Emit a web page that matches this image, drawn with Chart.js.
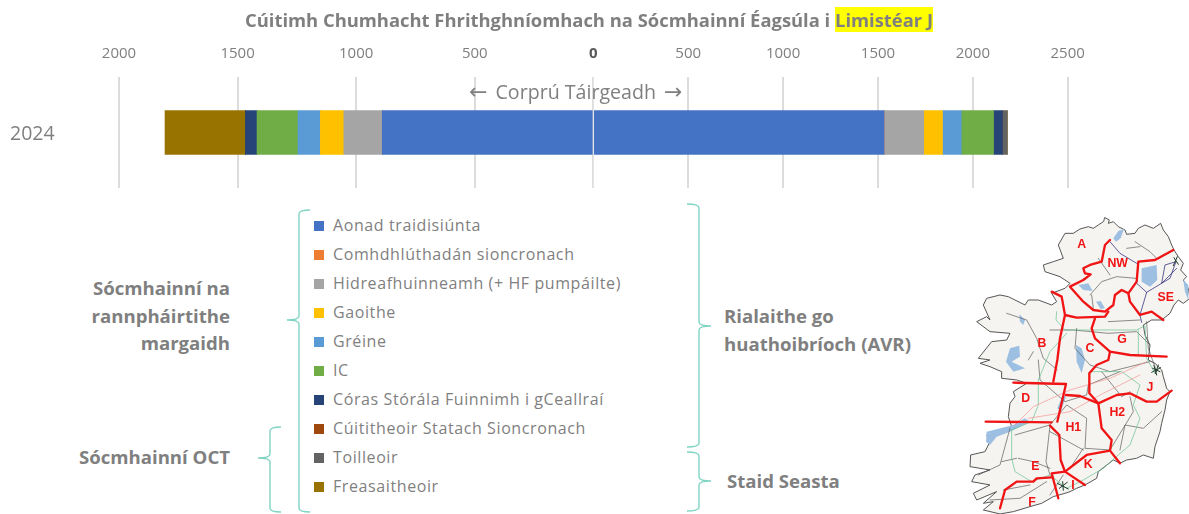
<!DOCTYPE html>
<html lang="ga">
<head>
<meta charset="UTF-8">
<title>Cúitimh Chumhacht Fhrithghníomhach</title>
<script src="https://cdn.jsdelivr.net/npm/chart.js"></script>
<style>
    body { margin: 0; background: #fff; font-family: 'Open Sans', sans-serif; color: #7f7f7f; }
    #page { position: relative; width: 1189px; height: 514px; overflow: hidden; }
    #chart { position: absolute; left: 0; top: 0; }
    .note { position: absolute; white-space: nowrap; line-height: 27.5px; }
    .head { font-weight: 700; font-size: 18.6px; color: #7f7f7f; }
    #title { left: 0; width: 1178px; top: 6px; text-align: center; line-height: 28px; font-size: 18.4px; }
    #title span { background: #ffff00; }
    #dir { left: 469px; top: 78px; font-size: 19.6px; }
    #dir b { font-family: 'DejaVu Sans', sans-serif; font-weight: 400; font-size: 22px; margin: 0 3px; }
    #legend { position: absolute; left: 314px; top: 211px; }
    .row { height: 29px; line-height: 29px; font-size: 16px; letter-spacing: 0.6px; white-space: nowrap; }
    .row i { display: inline-block; width: 10px; height: 10px; margin-right: 9px; }
    #overlay { position: absolute; left: 0; top: 0; }
</style>
</head>
<body>
<div id="page">
    <canvas id="chart" width="1189" height="200"></canvas>

    <div class="note head" id="title">Cúitimh Chumhacht Fhrithghníomhach na Sócmhainní Éagsúla i <span>Limistéar J</span></div>
    <div class="note" id="dir"><b style="margin-left:0">←</b> Corprú&nbsp;Táirgeadh <b>→</b></div>
    <div id="legend"></div>

    <div class="note head" style="right:959px;top:274px;text-align:right">Sócmhainní na<br>rannpháirtithe<br>margaidh</div>
    <div class="note head" style="right:959px;top:443px">Sócmhainní OCT</div>
    <div class="note head" style="left:724px;top:302px">Rialaithe go<br>huathoibríoch (AVR)</div>
    <div class="note head" style="left:727px;top:467px">Staid Seasta</div>

    <svg id="overlay" width="1189" height="514" fill="none">
        <!-- brackets -->
        <g stroke="#7fd4c4" stroke-width="1.4">
            <path d="M310 210 Q299 210 299 214 V316 Q299 320 287 320 Q299 320 299 324 V508 Q299 512 310 512"/>
            <path d="M281 427 Q270 427 270 431 V454 Q270 458 258 458 Q270 458 270 462 V508 Q270 512 281 512"/>
            <path d="M687 204 Q699 204 699 208 V322 Q699 326 711 326 Q699 326 699 330 V443 Q699 447 687 447"/>
            <path d="M687 452 Q699 452 699 456 V477 Q699 481 711 481 Q699 481 699 485 V507 Q699 511 687 511"/>
        </g>
        <!-- map of the island, traced in 3x crop units -->
        <g transform="translate(970 205) scale(0.3333)" stroke-linejoin="round" stroke-linecap="round">
            <path fill="#f6f4f0" stroke="#555" stroke-width="3" d="M405 38 L418 45 L415 55 L430 50 L445 65 L465 75 L470 88 L495 85 L505 70 L525 60 L550 70 L572 55 L580 75 L595 95 L605 120 L612 135 L625 155 L640 175 L632 195 L650 215 L640 225 L655 250 L660 280 L640 295 L625 285 L612 300 L600 325 L575 345 L545 345 L520 360 L525 390 L540 420 L535 465 L555 475 L575 495 L580 515 L590 550 L600 560 L590 585 L585 615 L575 655 L570 680 L555 725 L550 760 L520 750 L500 760 L470 765 L450 775 L430 765 L385 800 L380 820 L345 840 L320 850 L300 860 L285 865 L250 875 L215 895 L180 905 L130 920 L90 927 L40 915 L70 890 L40 895 L80 860 L20 885 L10 865 L60 840 L5 830 L15 810 L60 795 L0 785 L2 750 L45 740 L60 710 L50 690 L90 675 L125 665 L115 635 L120 595 L135 575 L130 560 L170 535 L140 525 L95 520 L95 500 L60 485 L30 475 L60 465 L25 460 L65 410 L110 405 L120 385 L60 380 L20 350 L50 335 L60 345 L40 300 L50 280 L90 270 L115 275 L165 300 L175 285 L205 285 L245 300 L260 290 L245 265 L285 250 L300 235 L270 215 L225 200 L220 180 L250 170 L280 160 L265 120 L285 85 L310 85 L330 72 L355 65 L370 70 L385 60 L400 50 Z"/>
            <g fill="#9dc0e2" stroke="none">
                <path d="M515 190 L560 180 L562 225 L540 245 L515 230 Z"/>
                <path d="M430 100 L445 78 L462 72 L452 100 L438 110 Z"/>
                <path d="M325 240 L355 235 L368 258 L340 255 Z"/>
                <path d="M378 290 L392 288 L405 310 L392 312 Z"/>
                <path d="M148 328 L165 345 L160 360 L150 350 Z"/>
                <path d="M120 430 L148 422 L150 455 L125 470 L165 490 L130 500 L108 470 Z"/>
                <path d="M50 680 L130 660 L165 640 L180 650 L120 680 L80 695 L60 720 L48 710 Z"/>
                <path d="M278 570 L288 575 L272 620 L262 610 Z"/>
                <path d="M318 420 L335 430 L345 465 L335 505 L320 470 Z"/>
                <path d="M640 225 L655 240 L655 285 L645 260 Z"/>
            </g>
            <g stroke="#555" stroke-width="2">
                <path d="M360 270 L395 230 L440 215 L498 220 M420 210 L385 160 M365 270 L370 310"/>
                <path d="M495 110 L540 140 L560 160 M470 130 L510 125"/>
                <path d="M110 325 L170 345 L200 400 L220 460 L262 495 M240 375 L310 375 L415 385 L500 380 L540 420"/>
                <path d="M175 465 L190 440 M320 370 L315 430 L360 480 L420 500 L540 470 M415 350 L510 345"/>
                <path d="M205 465 L210 525 L285 590 L350 570 L355 540 L450 500 M395 500 L455 575 L480 560"/>
                <path d="M135 690 L240 660 L290 600 L350 640 L345 730 L420 735 L490 620 L480 575"/>
                <path d="M240 662 L228 770 L240 810 M240 680 L340 735 M300 790 L340 730 M145 760 L190 770 L240 790"/>
                <path d="M120 670 L90 780 L25 810 M95 770 L140 760 M450 735 L465 660 L520 670 L575 620"/>
                <path d="M280 810 L240 870 M100 855 L180 840 M60 885 L150 880 L230 830"/>
                <path d="M530 350 L535 430 L560 500"/>
            </g>
            <g stroke="#5fc08c" stroke-width="2">
                <path d="M260 320 L258 345 L285 375 L500 375 L525 362 L530 460 L555 505"/>
                <path d="M505 375 L505 450 M290 385 L240 440 L205 525 L205 600 L185 650 L125 675 L125 760 L135 800 L185 830 L240 810 L290 850"/>
                <path d="M360 500 L455 500 L510 540 L490 600 L510 640 L480 720 L445 750 L400 790 L340 825 L290 850"/>
            </g>
            <g stroke="#26267c" stroke-width="2.2">
                <path d="M420 110 L450 145 L500 175 L510 170 M505 175 L500 235 L530 262 L600 220 L618 170 L585 180 L575 235 L620 190"/>
                <path d="M530 262 L510 330 L515 352"/>
            </g>
            <g stroke="#f2938f" stroke-width="2">
                <path d="M135 660 L190 605 L300 555 L420 520 L530 470"/>
                <path d="M175 640 L300 620 L400 565 L510 510"/>
            </g>
            <g stroke="#1d3b2c" stroke-width="3">
                <path d="M548 490 L570 500 M552 482 L560 510 M545 502 L572 488 M565 480 L556 506"/>
                <path d="M262 835 L295 852 M268 850 L292 832 M278 830 L280 856"/>
                <path d="M612 158 L625 178 M622 155 L610 182"/>
            </g>
            <g stroke="#f01414" stroke-width="7">
                <path d="M420 105 L405 120 L395 170 L360 180 L340 190 L345 205 L362 208 L340 225 L300 245 L340 290 L370 315 L405 320 L430 300 L435 270 L455 255 L475 265 L500 230 L505 170 L555 165 L610 135"/>
                <path d="M475 265 L480 290 L510 330 L545 320 L580 345"/>
                <path d="M245 260 L275 275 L285 330 L320 338 L405 335 L415 320"/>
                <path d="M285 330 L270 400 L262 465 L250 530"/>
                <path d="M375 340 L365 370 L375 400 L420 440 L480 450 L590 455"/>
                <path d="M420 440 L415 465 L380 480 L358 505 L358 565 L385 595"/>
                <path d="M130 533 L288 537 L262 650 M47 650 L245 652"/>
                <path d="M288 570 L330 573 L385 595 L440 570 L480 565 L530 590 L560 590 L605 557"/>
                <path d="M385 595 L395 670 L425 705 L420 737 L450 775"/>
                <path d="M420 737 L350 750 L285 800 L345 840"/>
                <path d="M240 662 L268 690 L272 765 L285 800 L245 805 L265 880"/>
                <path d="M245 817 L200 820 L190 830 L140 830 L105 855 L90 910"/>
            </g>
            <g fill="#f01414" font-family="'Liberation Sans', sans-serif" font-weight="700" font-size="37" text-anchor="middle" dominant-baseline="central">
                <text x="335" y="118">A</text><text x="443" y="175">NW</text><text x="587" y="275">SE</text>
                <text x="216" y="415">B</text><text x="360" y="428">C</text><text x="456" y="403">G</text>
                <text x="167" y="578">D</text><text x="540" y="545">J</text><text x="310" y="665">H1</text>
                <text x="442" y="622">H2</text><text x="196" y="782">E</text><text x="355" y="777">K</text>
                <text x="309" y="840">I</text><text x="186" y="890">F</text>
            </g>
        </g>
    </svg>
</div>

<script>
    const categories = ['2024'];
    const seriesNames = ['Aonad traidisiúnta', 'Comhdhlúthadán sioncronach', 'Hidreafhuinneamh (+ HF pumpáilte)', 'Gaoithe', 'Gréine', 'IC', 'Córas Stórála Fuinnimh i gCeallraí', 'Cúititheoir Statach Sioncronach', 'Toilleoir', 'Freasaitheoir'];
    const seriesColors = ['#4472c4', '#ed7d31', '#a5a5a5', '#ffc000', '#5b9bd5', '#70ad47', '#264478', '#9e480e', '#636363', '#997300'];
    // The two sides of the bar have different scales
    const corpruValues = [-890, 0, -162, -99, -94, -173, -49, 0, 0, -339];
    const tairgeadhValues = [1532, 0, 209, 99, 99, 170, 47, 0, 26, 0];
    const corpruMax = 2000;
    const tairgeadhMax = 2500;
    const tickStep = 500;

    const legend = document.getElementById('legend');
    seriesNames.forEach((name, i) => {
        const row = document.createElement('div');
        row.className = 'row';
        row.innerHTML = `<i style="background:${seriesColors[i]}"></i>${name}`;
        legend.appendChild(row);
    });

    const datasets = [];
    seriesNames.forEach((name, i) => {
        datasets.push({ label: name, data: [corpruValues[i]], backgroundColor: seriesColors[i], xAxisID: 'xCorpru', barThickness: 44 });
        datasets.push({ label: name, data: [tairgeadhValues[i]], backgroundColor: seriesColors[i], xAxisID: 'xTairgeadh', barThickness: 44 });
    });

    const zeroLine = {
        id: 'zeroLine',
        afterDatasetsDraw(chart) {
            const x = chart.scales.xCorpru.getPixelForValue(0);
            const c = chart.ctx;
            c.save();
            c.strokeStyle = 'rgba(255,255,255,0.3)';
            c.lineWidth = 1;
            c.beginPath();
            c.moveTo(x, chart.chartArea.top);
            c.lineTo(x, chart.chartArea.bottom);
            c.stroke();
            c.restore();
        }
    };

    new Chart(document.getElementById('chart'), {
        type: 'bar',
        data: { labels: categories, datasets: datasets },
        plugins: [zeroLine],
        options: {
            indexAxis: 'y',
            responsive: false,
            animation: false,
            layout: { padding: { left: 10, right: 121.3, top: 0, bottom: 12 } },
            plugins: { legend: { display: false }, title: { display: false }, tooltip: { enabled: false } },
            scales: {
                y: {
                    stacked: true,
                    grid: { display: false },
                    border: { display: false },
                    ticks: { color: '#7f7f7f', font: { family: "'Open Sans', sans-serif", size: 19.5 }, padding: 0, crossAlign: 'far', labelOffset: 2 },
                    afterFit(s) { s.width = 109; }
                },
                // two axes share the band above the plot, each with half of its width.
                // the stack is laid out from the last one declared, so the right side comes first here
                xTairgeadh: {
                    position: 'top',
                    stack: 'value',
                    stackWeight: 1,
                    stacked: true,
                    min: 0,
                    max: tairgeadhMax,
                    border: { display: false },
                    grid: { color: '#dcdcdc', lineWidth: 2, drawTicks: false },
                    ticks: {
                        stepSize: tickStep,
                        padding: 14,
                        maxRotation: 0,
                        color: '#7f7f7f',
                        font: { family: "'Open Sans', sans-serif", size: 15 },
                        callback: v => v === 0 ? '' : String(v)
                    },
                    afterFit(s) { s.height = 77; }
                },
                xCorpru: {
                    position: 'top',
                    stack: 'value',
                    stackWeight: 1,
                    stacked: true,
                    min: -corpruMax,
                    max: 0,
                    border: { display: false },
                    grid: { color: '#dcdcdc', lineWidth: 2, drawTicks: false },
                    ticks: {
                        stepSize: tickStep,
                        padding: 14,
                        maxRotation: 0,
                        color: ctx => ctx.tick.value === 0 ? '#595959' : '#7f7f7f',
                        font: ctx => ({ family: "'Open Sans', sans-serif", size: 15, weight: ctx.tick && ctx.tick.value === 0 ? '700' : '400' }),
                        callback: v => String(Math.abs(v))
                    },
                    afterFit(s) { s.height = 77; }
                }
            }
        }
    });
</script>
</body>
</html>
